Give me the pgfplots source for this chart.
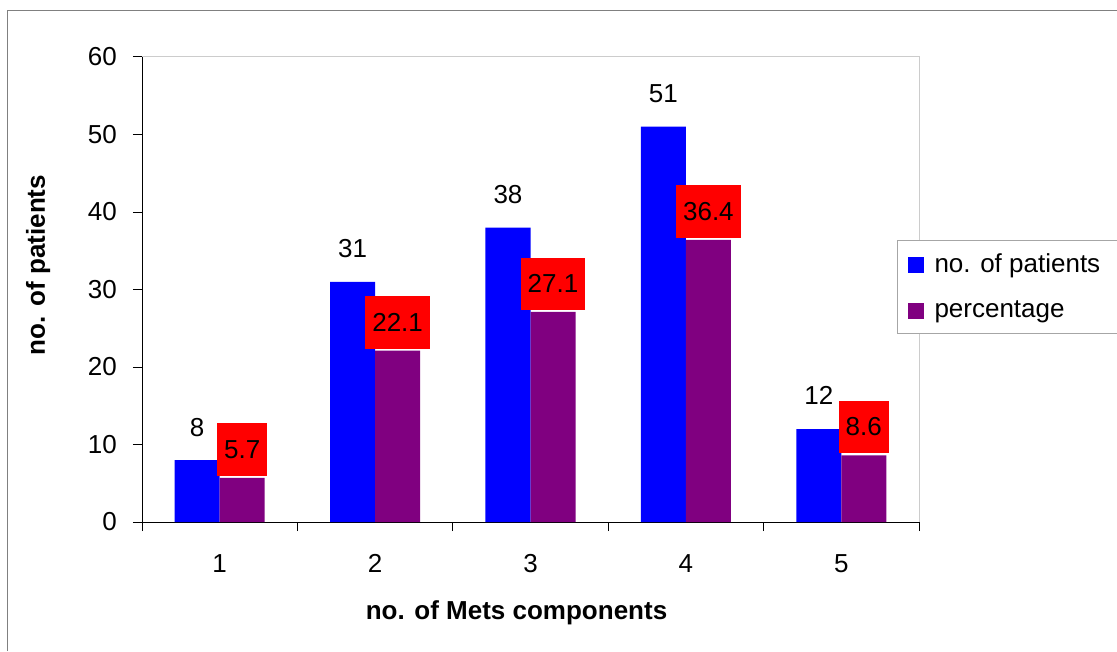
\documentclass[border=0pt]{standalone}
\usepackage{fontspec}
\setmainfont{Liberation Sans}
\usepackage{pgfplots}
\pgfplotsset{compat=1.18}
\definecolor{barblue}{RGB}{0,0,255}
\definecolor{barpurple}{RGB}{128,0,128}
\definecolor{boxred}{RGB}{255,0,0}
\begin{document}
\fontsize{26}{31}\selectfont
\begin{tikzpicture}
\begin{axis}[
    at={(142pt,129pt)}, anchor=south west,
    scale only axis, width=777pt, height=465pt,
    xmin=0.5, xmax=5.5, ymin=0, ymax=60,
    enlargelimits=false, clip=false,
    ybar=0pt, bar width=45pt,
    axis x line=bottom, axis y line=left,
    axis line style={-, black, line width=1pt},
    tick align=outside,
    major tick length=9pt, minor tick length=9pt,
    tick style={black, line width=1pt},
    xtick={1,2,3,4,5},
    major x tick style={draw=none},
    minor xtick={0.5,1.5,...,5.5},
    ytick={0,10,...,60},
    /pgf/number format/assume math mode=true,
    yticklabel style={anchor=east, inner sep=0pt, xshift=-16pt},
    xticklabel style={anchor=north, inner sep=0pt, yshift=-23pt},
    xlabel={\bfseries no. of Mets components},
    ylabel={\bfseries no. of patients},
    xlabel style={at={(axis description cs:0.482,0)}, anchor=base, inner sep=0pt, yshift=-97pt},
    ylabel style={at={(axis description cs:-0.1338,0.5527)}, anchor=center, inner sep=0pt},
    legend style={at={(rel axis cs:0.9717,0.6065)}, anchor=north west,
        draw=black!35, line width=1pt, inner xsep=10pt, inner ysep=11pt,
        row sep=20pt, font=\fontsize{26}{31}\selectfont,
        /tikz/every odd column/.append style={column sep=9pt}},
    legend cell align=left,
    legend image code/.code={\fill[#1] (0pt,-8pt) rectangle (16pt,8pt);},
]
\draw[black!20, line width=1pt] (rel axis cs:0,1) -- (rel axis cs:1,1) -- (rel axis cs:1,0);
\addplot[fill=barblue, draw=none,
    nodes near coords,
    nodes near coords style={anchor=base, inner sep=0pt, yshift=24pt, text=black}]
    coordinates {(1,8) (2,31) (3,38) (4,51) (5,12)};
\addplot[fill=barpurple, draw=none,
    nodes near coords,
    nodes near coords style={anchor=south, fill=boxred, text=black,
        inner xsep=7pt, inner ysep=17pt, yshift=2pt}]
    coordinates {(1,5.7) (2,22.1) (3,27.1) (4,36.4) (5,8.6)};
\legend{no. of patients\hspace*{30pt}, percentage}
\end{axis}
\draw[black!50, line width=1pt] (7pt,0pt) -- (7pt,640pt) -- (1130pt,640pt);
\pgfresetboundingbox
\path[use as bounding box] (0,0) rectangle (1117pt,651pt);
\end{tikzpicture}
\end{document}
